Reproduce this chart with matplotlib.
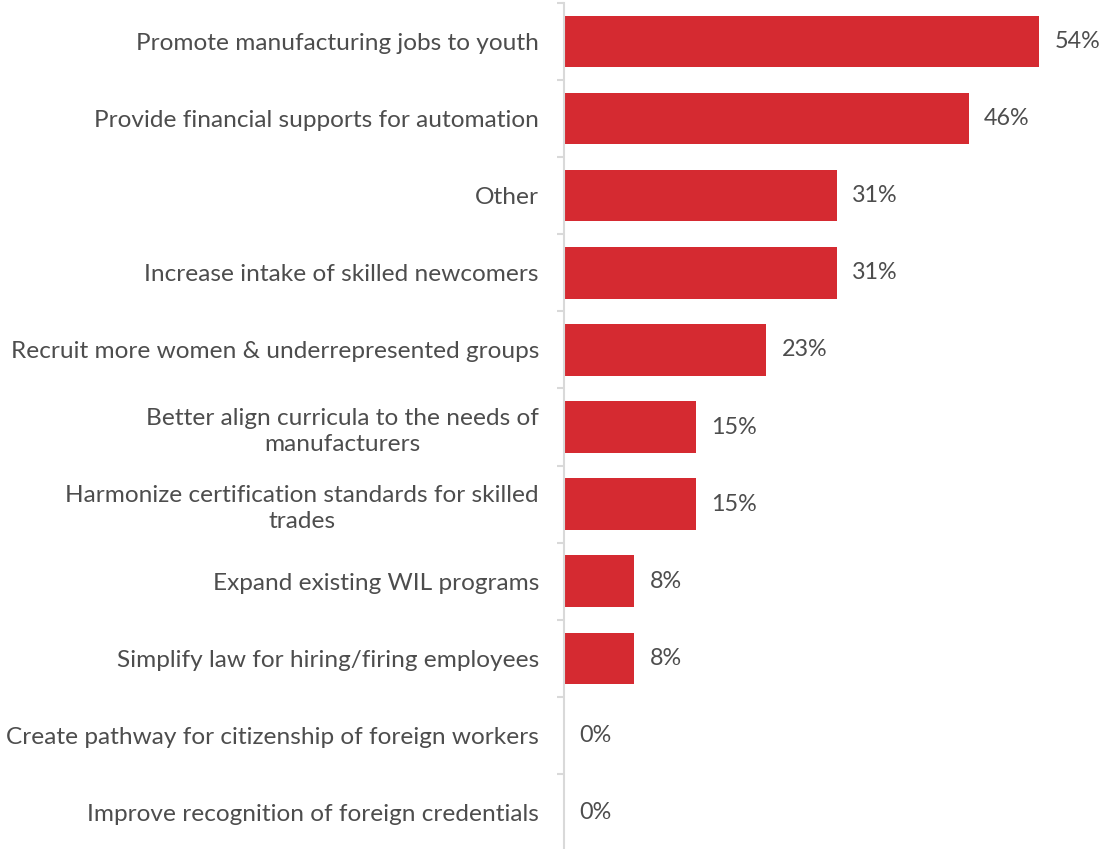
import matplotlib.pyplot as plt
from matplotlib.ticker import FixedLocator
import numpy as np

plt.rcParams['font.family'] = ['Lato', 'DejaVu Sans']

categories = [
    "Promote manufacturing jobs to youth",
    "Provide financial supports for automation",
    "Other",
    "Increase intake of skilled newcomers",
    "Recruit more women & underrepresented groups",
    "Better align curricula to the needs of\nmanufacturers",
    "Harmonize certification standards for skilled\ntrades",
    "Expand existing WIL programs",
    "Simplify law for hiring/firing employees",
    "Create pathway for citizenship of foreign workers",
    "Improve recognition of foreign credentials",
]
shares = [54, 46, 31, 31, 23, 15, 15, 8, 8, 0, 0]

BAR_RED = '#D52A31'
TEXT_GREY = '#4D4D4D'
AXIS_GREY = '#D9D9D9'
FS = 17.6

fig = plt.figure(figsize=(11.01, 8.49), dpi=100)
ax = fig.add_axes([564 / 1101, -2 / 849, 528 / 1101, 848 / 849])

y = np.arange(len(categories))
ax.barh(y, shares, height=0.667, color=BAR_RED)
ax.set_ylim(len(categories) - 0.5, -0.5)
ax.set_xlim(0, 60)

# value labels just past the bar ends
for yi, v in zip(y, shares):
    ax.annotate(f"{v}%", (v, yi), xytext=(11, 0), textcoords='offset points',
                ha='left', va='center', fontsize=16.8, color=TEXT_GREY)

ax.set_yticks(y)
ax.set_yticklabels(categories, fontsize=FS, color=TEXT_GREY,
                   multialignment='center', linespacing=1.3)
ax.tick_params(axis='y', which='major', length=0, pad=18)
ax.yaxis.set_minor_locator(FixedLocator(np.arange(-0.5, len(categories), 1)))
ax.tick_params(axis='y', which='minor', length=5, width=1.5, color=AXIS_GREY)

ax.set_xticks([])
for side in ['top', 'right', 'bottom']:
    ax.spines[side].set_visible(False)
ax.spines['left'].set_color(AXIS_GREY)
ax.spines['left'].set_linewidth(1.5)

fig.savefig('out.png', dpi=100)
